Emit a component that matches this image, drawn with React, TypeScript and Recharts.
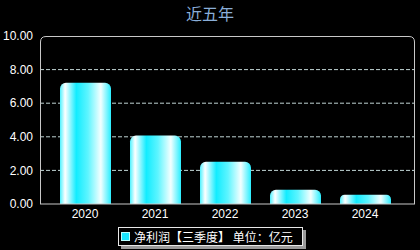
import React from "react";
import { BarChart, Bar, XAxis, YAxis, CartesianGrid, Legend } from "recharts";

const categories = ["2020", "2021", "2022", "2023", "2024"];
const netProfit = [7.22, 4.07, 2.52, 0.85, 0.55];
const yTicks = [0, 2, 4, 6, 8, 10];
const seriesName = "净利润【三季度】 单位：亿元";
const title = "近五年";

const data = categories.map((c, i) => ({ year: c, value: netProfit[i] }));

const W = 420;
const H = 250;
const M = { top: 36, right: 5, left: 0, bottom: 0 };
const YW = 40;
const XH = 46;

const LegendContent = () => (
  <div
    style={{
      display: "flex",
      alignItems: "center",
      boxSizing: "border-box",
      width: 185,
      height: 19,
      border: "1px solid #e8e8e8",
      background: "#000",
      boxShadow: "3px 3px 0 #9a9a9a",
      padding: "0 0 0 2px",
      fontFamily: "'Noto Sans CJK SC', sans-serif",
      fontSize: 12,
      lineHeight: "17px",
      color: "#fff",
      whiteSpace: "nowrap",
    }}
  >
    <span
      style={{
        display: "inline-block",
        boxSizing: "border-box",
        width: 9,
        height: 9,
        background: "#18e6ff",
        border: "1px solid #bff",
        marginRight: 4,
      }}
    />
    <span>{seriesName}</span>
  </div>
);

export default function App() {
  const px0 = M.left + YW;
  const px1 = W - M.right;
  const py0 = M.top;
  const py1 = H - M.bottom - XH;
  const r = 6;
  const frame = `M${px0 + 0.5},${py1} L${px0 + 0.5},${py0 + r} Q${px0 + 0.5},${py0 + 0.5} ${px0 + r},${py0 + 0.5} L${px1 - r},${py0 + 0.5} Q${px1 - 0.5},${py0 + 0.5} ${px1 - 0.5},${py0 + r} L${px1 - 0.5},${py1}`;
  const tickFont = { fill: "#fff", fontSize: 12, fontFamily: "'Liberation Sans', Arial, sans-serif" };
  return (
    <div style={{ position: "absolute", left: 0, top: 0, width: W, height: H, background: "#000", overflow: "hidden" }}>
      <div
        style={{
          position: "absolute",
          top: 1,
          left: 0,
          width: W,
          textAlign: "center",
          fontFamily: "'Noto Sans CJK SC', sans-serif",
          fontSize: 16,
          color: "#8aaed8",
        }}
      >
        {title}
      </div>
      <BarChart width={W} height={H} data={data} margin={M} style={{ position: "absolute", left: 0, top: 0 }}>
        <defs>
          <linearGradient id="barGrad" x1="0" y1="0" x2="1" y2="0">
            <stop offset="0%" stopColor="#4ef2ff" />
            <stop offset="10%" stopColor="#ffffff" />
            <stop offset="32%" stopColor="#12ecff" />
            <stop offset="55%" stopColor="#5ff5ff" />
            <stop offset="80%" stopColor="#f4ffff" />
            <stop offset="100%" stopColor="#2aeeff" />
          </linearGradient>
        </defs>
        <CartesianGrid
          horizontal
          vertical={false}
          stroke="#c0d4d4"
          strokeDasharray="4 2"
          horizontalValues={[2, 4, 6, 8]}
        />
        <XAxis
          dataKey="year"
          height={XH}
          padding={{ left: 10, right: 15 }}
          stroke="#c8c8c8"
          tickLine={false}
          tickSize={0}
          tickMargin={5}
          tick={tickFont}
        />
        <YAxis
          width={YW}
          domain={[0, 10]}
          ticks={yTicks}
          axisLine={false}
          tickLine={false}
          tickSize={0}
          tickMargin={7}
          tickFormatter={(v: number) => v.toFixed(2)}
          tick={tickFont}
          interval={0}
        />
        <Legend
          layout="vertical"
          align="center"
          verticalAlign="middle"
          content={<LegendContent />}
          wrapperStyle={{ position: "absolute", left: 118, top: 227, width: 185, height: 19 }}
        />
        <Bar
          dataKey="value"
          name={seriesName}
          fill="url(#barGrad)"
          barSize={51}
          radius={[6, 6, 0, 0]}
          isAnimationActive={false}
        />
      </BarChart>
      <svg width={W} height={H} style={{ position: "absolute", left: 0, top: 0, pointerEvents: "none" }}>
        <path d={frame} fill="none" stroke="#c8c8c8" strokeWidth={1} />
      </svg>
    </div>
  );
}
